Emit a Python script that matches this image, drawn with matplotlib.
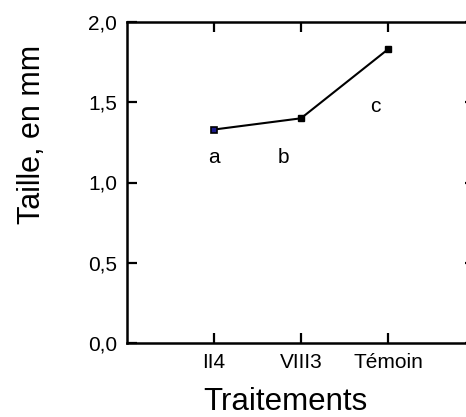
import matplotlib
matplotlib.use("Agg")
import matplotlib.pyplot as plt
from matplotlib.ticker import FuncFormatter

plt.rcParams['font.family'] = ['Liberation Sans', 'DejaVu Sans']

# Data
traitements = ["II4", "VIII3", "Témoin"]
taille = [1.33, 1.40, 1.83]
groupes = ["a", "b", "c"]
y_ticks = [0.0, 0.5, 1.0, 1.5, 2.0]

x = list(range(1, len(traitements) + 1))

fig = plt.figure(figsize=(4.66, 4.17), dpi=100)
ax = fig.add_axes([127 / 466, 1 - 343 / 417, 348 / 466, 321 / 417])

ax.plot(x, taille, color="black", lw=1.5, zorder=2)
ax.plot(x[:1], taille[:1], ls="none", marker="s", ms=5, mfc="#1a1a8c",
        mec="black", mew=1.2, zorder=3)
ax.plot(x[1:], taille[1:], ls="none", marker="s", ms=5, mfc="black",
        mec="black", zorder=3)

# Significance letters under/near each point
letter_pos = [(1.0, 1.12), (1.80, 1.12), (2.85, 1.44)]
for g, (lx, ly) in zip(groupes, letter_pos):
    ax.text(lx, ly, g, ha="center", va="baseline", fontsize=15)

ax.set_xlim(0, 4)
ax.set_ylim(0, 2.0)
ax.set_xticks(x)
ax.set_xticklabels(traitements)
ax.set_yticks(y_ticks)
ax.yaxis.set_major_formatter(FuncFormatter(lambda v, p: f"{v:.1f}".replace(".", ",")))

for s in ax.spines.values():
    s.set_linewidth(1.8)

ax.tick_params(direction="in", length=7.5, width=1.6, labelsize=15, pad=7,
               top=True, right=True)

fig.text(285 / 466, 1 - 410 / 417, "Traitements", ha="center", va="baseline",
         fontsize=22.5)
fig.text(40 / 466, 1 - 134 / 417, "Taille, en mm", rotation=90,
         rotation_mode="anchor", ha="center", va="baseline", fontsize=22)

fig.savefig("out.png", dpi=100)
